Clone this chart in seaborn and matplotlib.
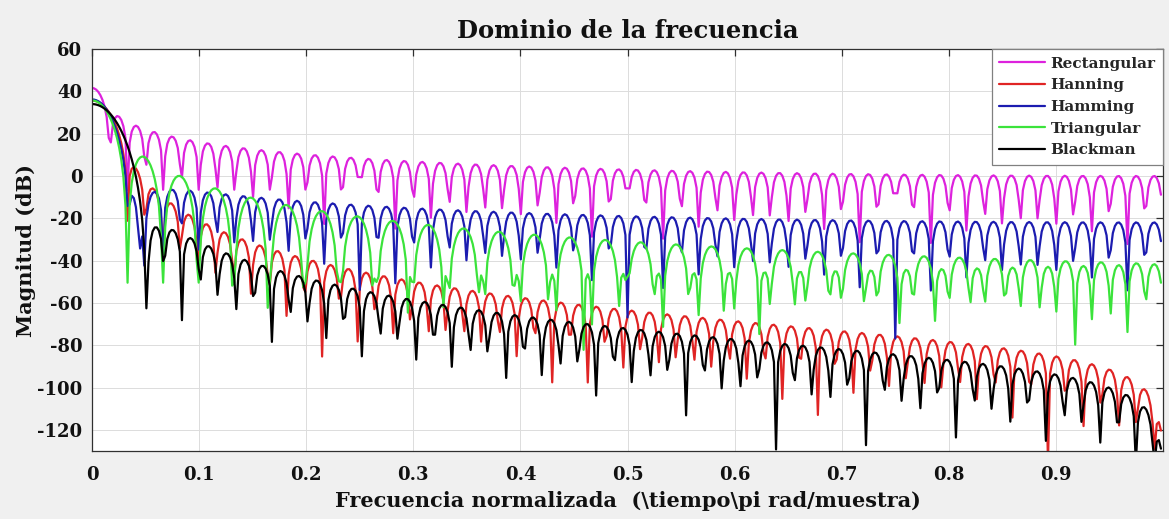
import numpy as np
import pandas as pd
import matplotlib
matplotlib.use("Agg")
import matplotlib.pyplot as plt
import seaborn as sns

# Windows being compared and their line colours
window_names = ["Rectangular", "Hanning", "Hamming", "Triangular", "Blackman"]
line_colors = ["#dd22dd", "#e02424", "#1c1cb0", "#3be33b", "#000000"]

# Window length (samples) and number of frequency points on [0, pi)
window_length = 120
n_freq = 512

# Axis ticks
x_ticks = [0, 0.1, 0.2, 0.3, 0.4, 0.5, 0.6, 0.7, 0.8, 0.9]
x_tick_labels = ["0", "0.1", "0.2", "0.3", "0.4", "0.5", "0.6", "0.7", "0.8", "0.9"]
y_ticks = [-120, -100, -80, -60, -40, -20, 0, 20, 40, 60]
y_tick_labels = ["-120", "-100", "-80", "-60", "-40", "-20", "0", "20", "40", "60"]
x_limits = (0, 1)
y_limits = (-130, 60)


def make_window(name, n):
    if name == "Rectangular":
        return np.ones(n)
    if name == "Hanning":
        # raised cosine without the zero end points
        return np.hanning(n + 2)[1:-1]
    if name == "Hamming":
        return np.hamming(n)
    if name == "Triangular":
        # rising ramp 1/(n/2) ... 1 followed by its mirror image
        half = np.arange(1, n // 2 + 1) / (n // 2)
        return np.concatenate([half, half[::-1]])
    if name == "Blackman":
        return np.blackman(n)
    raise ValueError(name)


def magnitude_db(w, npts):
    spec = np.fft.fft(w, 2 * npts)[:npts]
    mag = np.abs(spec)
    out = np.full(npts, np.nan)
    ok = mag > 1e-10          # exact spectral zeros are left out
    out[ok] = 20 * np.log10(mag[ok])
    return out


freq = np.arange(n_freq) / n_freq
frames = []
for name in window_names:
    frames.append(pd.DataFrame({
        "freq": freq,
        "mag_db": magnitude_db(make_window(name, window_length), n_freq),
        "window": name,
    }))
spectra = pd.concat(frames, ignore_index=True)

sns.set_style("white")
plt.rcParams["font.family"] = ["DejaVu Serif"]
plt.rcParams["font.weight"] = "bold"

fig = plt.figure(figsize=(11.69, 5.19), dpi=100, facecolor="#f0f0f0")
ax = fig.add_axes([0.0787, 0.131, 0.9162, 0.7746])
ax.set_facecolor("white")

sns.lineplot(
    data=spectra, x="freq", y="mag_db", hue="window",
    hue_order=window_names, palette=dict(zip(window_names, line_colors)),
    estimator=None, linewidth=1.6, ax=ax, legend=True,
)

ax.set_xlim(*x_limits)
ax.set_ylim(*y_limits)
ax.set_xticks(x_ticks)
ax.set_xticklabels(x_tick_labels)
ax.set_yticks(y_ticks)
ax.set_yticklabels(y_tick_labels)
ax.grid(True, color="#dcdcdc", linewidth=0.7)
ax.set_axisbelow(True)

for sp in ax.spines.values():
    sp.set_visible(True)
    sp.set_color("#303030")
    sp.set_linewidth(0.9)

ax.tick_params(axis="both", which="major", direction="in", length=5, width=0.9,
               color="#303030", top=True, right=True, labelsize=13,
               labelcolor="#111111")
ax.tick_params(axis="x", pad=11)
ax.tick_params(axis="y", pad=7)

ax.set_title("Dominio de la frecuencia", fontsize=17.5, fontweight="bold", pad=8,
             color="#111111")
ax.set_xlabel("Frecuencia normalizada  (\\tiempo\\pi rad/muestra)", fontsize=15,
              fontweight="bold", labelpad=5, color="#111111")
ax.set_ylabel("Magnitud (dB)", fontsize=15, fontweight="bold", labelpad=1,
              color="#111111")

handles, labels = ax.get_legend_handles_labels()
leg = ax.legend(handles, labels, loc="upper right", fontsize=11,
                frameon=True, fancybox=False, framealpha=1, edgecolor="#808080",
                borderaxespad=0, handlelength=3.0, handletextpad=0.35,
                labelspacing=0.5, borderpad=0.5)
leg.get_frame().set_linewidth(0.9)
for line in leg.get_lines():
    line.set_linewidth(1.6)

fig.savefig("out.png", dpi=100, facecolor=fig.get_facecolor())
